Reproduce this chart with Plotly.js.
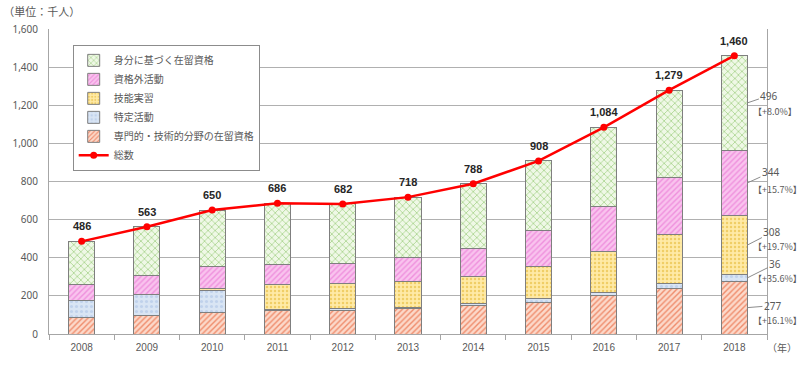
<!DOCTYPE html>
<html>
<head>
<meta charset="utf-8">
<script src="https://cdn.plot.ly/plotly-3.0.1.min.js"></script>
<style>html,body{margin:0;padding:0;background:#fff;}#chart{width:805px;height:366px;}</style>
</head>
<body>
<div id="chart"></div>
<script>
// ---- data (thousand persons) ----
const years = ['2008','2009','2010','2011','2012','2013','2014','2015','2016','2017','2018'];
const senmon     = [85, 96, 110.6, 120.9, 124.3, 132.6, 147.3, 167.3, 201.0, 238.4, 276.8];
const tokutei    = [91, 111, 118, 7.8, 8.5, 8.7, 10.9, 16.4, 18.7, 26.3, 35.6];
const ginou      = [0, 0, 10, 130.1, 134.2, 136.6, 145.4, 168.3, 211.1, 257.8, 308.5];
const shikakugai = [82, 101, 113, 108.1, 102.5, 121.8, 146.4, 192.3, 239.6, 297.0, 343.8];
const mibun      = [228, 255, 298, 319.6, 312.9, 318.8, 338.7, 363.6, 413.4, 459.1, 495.7];
const totals     = [486, 563, 650, 686, 682, 718, 788, 908, 1084, 1279, 1460];
const seriesNames = ['専門的・技術的分野の在留資格','特定活動','技能実習','資格外活動','身分に基づく在留資格'];
const latestLabels = ['277','36','308','344','496'];
const latestChange = ['【+16.1%】','【+35.6%】','【+19.7%】','【+15.7%】','【+8.0%】'];
const totalName = '総数';
const unitLabel = '（単位：千人）';
const yearUnit = '（年）';

const FONT = '"Noto Sans", "Noto Sans CJK JP", sans-serif';
const NARROW = '"Liberation Sans Narrow", "Noto Sans CJK JP", sans-serif';
const GRAY = '#595959';

const seriesData = [senmon, tokutei, ginou, shikakugai, mibun];
const styles = [
  {shape:'/', bg:'#FCD9CA', fg:'#EF8C6C', size:4, sol:0.35},
  {shape:'.', bg:'#D9E5F4', fg:'#C0D2EC', size:5, sol:0.3},
  {shape:'.', bg:'#FFEAA6', fg:'#F0CE66', size:4, sol:0.3},
  {shape:'/', bg:'#F9C3EE', fg:'#EF90DD', size:4, sol:0.35},
  {shape:'x', bg:'#EFF8E6', fg:'#A6D38B', size:5, sol:0.28}
];
const ranks = [5,4,3,2,1];

const traces = seriesData.map((vals, i) => ({
  type:'bar', name: seriesNames[i], x: years, y: vals,
  legendrank: ranks[i],
  marker:{
    color: styles[i].bg,
    line:{color:'#7F7F7F', width:1},
    pattern:{shape: styles[i].shape, bgcolor: styles[i].bg, fgcolor: styles[i].fg, size: styles[i].size, solidity: styles[i].sol}
  },
  hoverinfo:'skip'
}));
traces.push({
  type:'scatter', mode:'lines+markers', name: totalName, x: years, y: totals,
  legendrank: 6,
  line:{color:'#FF0000', width:2.5},
  marker:{color:'#FF0000', size:7},
  hoverinfo:'skip'
});

const annotations = [];
// total labels above line points (x = category index)
years.forEach((yr, i) => {
  annotations.push({
    x: i, y: totals[i], xref:'x', yref:'y', yshift:15, showarrow:false,
    text: totals[i].toLocaleString('en-US'),
    font:{family:'"Liberation Sans", Arial, sans-serif', size:11, color:'#262626', weight:'bold'}
  });
});
// latest-year callouts
const last = years.length - 1;
const offs = [[25,-2,-12],[28,-14,0],[24.5,-12.6,0],[23,-10.4,-6],[21.5,-7.3,-8]];
let cum = 0;
seriesData.forEach((vals, i) => {
  const mid = cum + vals[last] / 2;
  cum += vals[last];
  annotations.push({
    x: last + 0.2, y: mid, xref:'x', yref:'y',
    showarrow:true, arrowhead:0, arrowwidth:1, arrowcolor:'#8C8C8C',
    ax: offs[i][0], ay: offs[i][1], standoff:0,
    text: latestLabels[i],
    font:{family:FONT, size:10, color:GRAY}
  });
  annotations.push({
    x: last + 0.2, y: mid, xref:'x', yref:'y', showarrow:false,
    xanchor:'left', xshift:4, yshift: offs[i][2] - 1,
    text: latestChange[i],
    font:{family:NARROW, size:9, color:GRAY}
  });
});
annotations.push({
  xref:'paper', yref:'paper', x:1.0, y:0, xanchor:'left', yanchor:'middle', yshift:-14, xshift:-2,
  showarrow:false, text: yearUnit, font:{family:FONT, size:10, color:GRAY}
});

const layout = {
  width:805, height:366,
  margin:{l:49, r:38, t:29, b:32},
  paper_bgcolor:'#fff', plot_bgcolor:'#fff',
  barmode:'stack', bargap:0.6,
  showlegend:true,
  title:{text: unitLabel, xref:'container', yref:'container', x:0.004, xanchor:'left', y:0.967, yanchor:'middle',
         font:{family:FONT, size:11, color:GRAY}},
  legend:{x:0.033, y:0.948, xanchor:'left', yanchor:'top', traceorder:'normal',
          bgcolor:'#fff', bordercolor:'#8C8C8C', borderwidth:1,
          font:{family:FONT, size:10, color:GRAY}, tracegroupgap:0},
  xaxis:{type:'category', range:[-0.5, years.length - 0.5], autorange:false,
         showgrid:false, showline:true, linecolor:'#A6A6A6', linewidth:1,
         ticks:'outside', tickson:'boundaries', ticklen:5, tickcolor:'#A6A6A6', tickangle:0,
         ticklabelstandoff:4,
         tickfont:{family:'"Liberation Sans Narrow", "Liberation Sans", sans-serif', size:10, color:GRAY}},
  yaxis:{range:[0,1600], autorange:false, dtick:200, tickformat:',', showgrid:true, gridcolor:'#B0B0B0', gridwidth:1,
         showline:true, mirror:true, linecolor:'#A6A6A6', linewidth:1, zeroline:false,
         ticks:'', ticklabelstandoff:8,
         tickfont:{family:FONT, size:10, color:GRAY}},
  annotations: annotations
};

Plotly.newPlot('chart', traces, layout, {displayModeBar:false, staticPlot:true});
</script>
</body>
</html>
